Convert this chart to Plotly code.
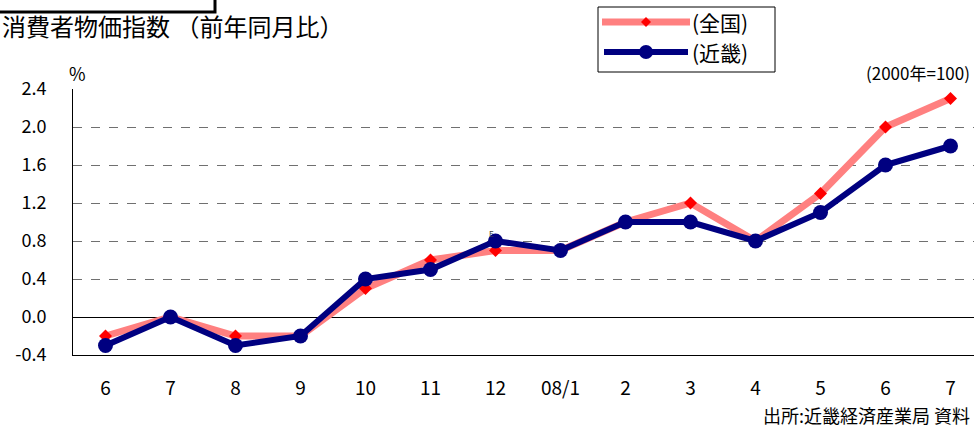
import plotly.graph_objects as go

categories = ["6", "7", "8", "9", "10", "11", "12", "08/1", "2", "3", "4", "5", "6", "7"]
zenkoku = [-0.2, 0.0, -0.2, -0.2, 0.3, 0.6, 0.7, 0.7, 1.0, 1.2, 0.8, 1.3, 2.0, 2.3]
kinki = [-0.3, 0.0, -0.3, -0.2, 0.4, 0.5, 0.8, 0.7, 1.0, 1.0, 0.8, 1.1, 1.6, 1.8]
y_ticks = [-0.4, 0.0, 0.4, 0.8, 1.2, 1.6, 2.0, 2.4]

W, H = 974, 430
L, R, T, B = 73, 0, 89, 75
PW, PH = W - L - R, H - T - B
FONT = "Noto Sans CJK JP"

def px(x):
    return (x - L) / PW

def py(y):
    return (H - B - y) / PH

xs = list(range(len(categories)))

fig = go.Figure()
fig.add_trace(go.Scatter(
    x=xs, y=zenkoku, mode="lines+markers", name="(全国)",
    line=dict(color="#FF8080", width=7),
    marker=dict(symbol="diamond", size=10, color="#FF0000"),
    showlegend=False,
))
fig.add_trace(go.Scatter(
    x=xs, y=kinki, mode="lines+markers", name="(近畿)",
    line=dict(color="#000080", width=6),
    marker=dict(symbol="circle", size=15, color="#000080"),
    showlegend=False,
))

shapes = []
annotations = []

# title box (partially visible)
shapes.append(dict(type="rect", xref="paper", yref="paper",
                   x0=px(-10), x1=px(215), y0=py(12), y1=py(-10),
                   line=dict(color="black", width=3), fillcolor="white"))
annotations.append(dict(xref="paper", yref="paper", x=px(0), y=py(26),
                        text="消費者物価指数 （前年同月比）", showarrow=False,
                        xanchor="left", yanchor="middle",
                        font=dict(family=FONT, size=24, color="black")))

# legend box
shapes.append(dict(type="rect", xref="paper", yref="paper",
                   x0=px(598), x1=px(775), y0=py(72), y1=py(7),
                   line=dict(color="black", width=1), fillcolor="white"))
shapes.append(dict(type="line", xref="paper", yref="paper",
                   x0=px(602), x1=px(690), y0=py(22), y1=py(22),
                   line=dict(color="#FF8080", width=7)))
shapes.append(dict(type="path", xref="paper", yref="paper",
                   path="M {a},{b} L {c},{d} L {a},{e} L {f},{d} Z".format(
                       a=px(646), b=py(17), c=px(651), d=py(22), e=py(27), f=px(641)),
                   line=dict(color="#FF0000", width=0), fillcolor="#FF0000"))
shapes.append(dict(type="line", xref="paper", yref="paper",
                   x0=px(604), x1=px(688), y0=py(52), y1=py(52),
                   line=dict(color="#000080", width=6)))
shapes.append(dict(type="circle", xref="paper", yref="paper",
                   x0=px(639), x1=px(653), y0=py(59), y1=py(45),
                   line=dict(color="#000080", width=0), fillcolor="#000080"))
annotations.append(dict(xref="paper", yref="paper", x=px(690), y=py(22),
                        text="(全国)", showarrow=False, xanchor="left", yanchor="middle",
                        font=dict(family=FONT, size=21, color="black")))
annotations.append(dict(xref="paper", yref="paper", x=px(690), y=py(52),
                        text="(近畿)", showarrow=False, xanchor="left", yanchor="middle",
                        font=dict(family=FONT, size=21, color="black")))

annotations.append(dict(xref="paper", yref="paper", x=px(972), y=py(72),
                        text="(2000年=100)", showarrow=False, xanchor="right", yanchor="middle",
                        font=dict(family=FONT, size=17, color="black")))
annotations.append(dict(xref="paper", yref="paper", x=px(77), y=py(73),
                        text="%", showarrow=False, xanchor="center", yanchor="middle",
                        font=dict(family=FONT, size=18, color="black")))
annotations.append(dict(xref="paper", yref="paper", x=px(972), y=py(429.5),
                        text="出所:近畿経済産業局 資料", showarrow=False, xanchor="right", yanchor="bottom",
                        font=dict(family=FONT, size=18, color="black")))
annotations.append(dict(xref="paper", yref="paper", x=px(491), y=py(233),
                        text="E", showarrow=False, xanchor="center", yanchor="middle",
                        font=dict(family=FONT, size=8, color="#404040")))

fig.update_layout(
    width=W, height=H,
    margin=dict(l=L, r=R, t=T, b=B, pad=0),
    paper_bgcolor="white", plot_bgcolor="white",
    font=dict(family=FONT, size=16, color="black"),
    shapes=shapes, annotations=annotations,
    showlegend=False,
)
fig.update_xaxes(
    range=[-0.5, -0.5 + PW / 65.0],
    tickmode="array", tickvals=xs, ticktext=categories,
    showgrid=False, zeroline=False,
    showline=True, linecolor="black", linewidth=1,
    ticks="", ticklabelstandoff=16,
    tickfont=dict(family=FONT, size=19, color="black"),
)
fig.update_yaxes(
    range=[-0.4, 2.4],
    tickmode="array", tickvals=y_ticks, ticktext=["%.1f" % v for v in y_ticks],
    showgrid=True, gridcolor="#707070", griddash="dash", gridwidth=1,
    zeroline=True, zerolinecolor="black", zerolinewidth=1,
    showline=True, linecolor="black", linewidth=1,
    ticks="", ticklabelstandoff=22,
    tickfont=dict(family=FONT, size=18, color="black"),
)

fig.write_html("out.html", config={"displayModeBar": False},
               post_script="document.body.style.margin='0';document.body.style.overflow='hidden';")
